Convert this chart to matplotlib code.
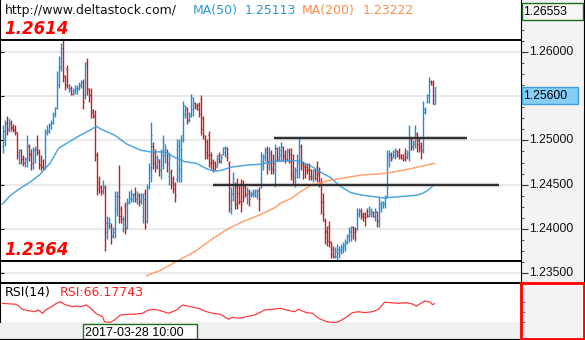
import matplotlib
matplotlib.use('Agg')
import matplotlib.pyplot as plt
import numpy as np
from matplotlib.patches import Rectangle
import matplotlib.transforms as mtransforms

plt.rcParams['font.family'] = ['DejaVu Sans']

# ---- H1 bars (open / high / low / close) ----
opens = [1.2494, 1.2511, 1.2520, 1.2513, 1.2520, 1.2515, 1.2513, 1.2509, 1.2483, 1.2489,
         1.2479, 1.2475, 1.2479, 1.2494, 1.2485, 1.2475, 1.2489, 1.2490, 1.2487, 1.2472,
         1.2470, 1.2470, 1.2510, 1.2511, 1.2517, 1.2520, 1.2530, 1.2537, 1.2563, 1.2583,
         1.2604, 1.2572, 1.2581, 1.2559, 1.2559, 1.2553, 1.2555, 1.2557, 1.2559, 1.2563,
         1.2566, 1.2551, 1.2589, 1.2557, 1.2551, 1.2534, 1.2528, 1.2483, 1.2453, 1.2447,
         1.2443, 1.2447, 1.2396, 1.2403, 1.2403, 1.2392, 1.2396, 1.2422, 1.2437, 1.2422,
         1.2400, 1.2426, 1.2402, 1.2430, 1.2434, 1.2434, 1.2439, 1.2432, 1.2438, 1.2432,
         1.2415, 1.2441, 1.2409, 1.2447, 1.2468, 1.2494, 1.2487, 1.2472, 1.2477, 1.2468,
         1.2483, 1.2483, 1.2487, 1.2460, 1.2464, 1.2456, 1.2451, 1.2456, 1.2460, 1.2468,
         1.2506, 1.2530, 1.2536, 1.2523, 1.2530, 1.2536, 1.2542, 1.2540, 1.2540, 1.2547,
         1.2525, 1.2502, 1.2498, 1.2506, 1.2483, 1.2477, 1.2475, 1.2472, 1.2483, 1.2477,
         1.2485, 1.2487, 1.2491, 1.2475, 1.2424, 1.2439, 1.2451, 1.2447, 1.2441, 1.2449,
         1.2449, 1.2447, 1.2438, 1.2441, 1.2438, 1.2439, 1.2439, 1.2438, 1.2443, 1.2447,
         1.2475, 1.2481, 1.2489, 1.2475, 1.2485, 1.2477, 1.2466, 1.2491, 1.2481, 1.2483,
         1.2492, 1.2483, 1.2479, 1.2489, 1.2485, 1.2477, 1.2458, 1.2466, 1.2474, 1.2494,
         1.2474, 1.2472, 1.2470, 1.2468, 1.2466, 1.2460, 1.2466, 1.2470, 1.2464, 1.2453,
         1.2430, 1.2409, 1.2398, 1.2402, 1.2385, 1.2377, 1.2369, 1.2369, 1.2373, 1.2375,
         1.2377, 1.2381, 1.2385, 1.2392, 1.2396, 1.2402, 1.2400, 1.2400, 1.2417, 1.2420,
         1.2417, 1.2417, 1.2420, 1.2415, 1.2417, 1.2419, 1.2413, 1.2419, 1.2409, 1.2424,
         1.2426, 1.2428, 1.2436, 1.2481, 1.2485, 1.2481, 1.2483, 1.2488, 1.2487, 1.2484,
         1.2483, 1.2486, 1.2481, 1.2485, 1.2502, 1.2492, 1.2496, 1.2506, 1.2500, 1.2494,
         1.2489, 1.2532, 1.2544, 1.2551, 1.2567, 1.2566, 1.2541]
highs = [1.2517, 1.2523, 1.2528, 1.2525, 1.2523, 1.2519, 1.2517, 1.2510, 1.2490, 1.2490,
         1.2483, 1.2481, 1.2506, 1.2496, 1.2490, 1.2492, 1.2494, 1.2506, 1.2490, 1.2483,
         1.2479, 1.2513, 1.2517, 1.2520, 1.2523, 1.2532, 1.2538, 1.2578, 1.2595, 1.2610,
         1.2614, 1.2574, 1.2585, 1.2564, 1.2561, 1.2559, 1.2563, 1.2563, 1.2566, 1.2568,
         1.2570, 1.2589, 1.2593, 1.2559, 1.2559, 1.2536, 1.2534, 1.2487, 1.2460, 1.2449,
         1.2455, 1.2449, 1.2415, 1.2413, 1.2407, 1.2402, 1.2443, 1.2443, 1.2472, 1.2426,
         1.2415, 1.2430, 1.2435, 1.2443, 1.2445, 1.2441, 1.2447, 1.2443, 1.2441, 1.2441,
         1.2441, 1.2445, 1.2451, 1.2475, 1.2521, 1.2498, 1.2490, 1.2483, 1.2479, 1.2490,
         1.2506, 1.2496, 1.2490, 1.2487, 1.2468, 1.2460, 1.2453, 1.2502, 1.2502, 1.2506,
         1.2545, 1.2540, 1.2538, 1.2532, 1.2553, 1.2549, 1.2544, 1.2542, 1.2544, 1.2551,
         1.2528, 1.2506, 1.2502, 1.2511, 1.2487, 1.2479, 1.2477, 1.2483, 1.2487, 1.2485,
         1.2493, 1.2494, 1.2492, 1.2477, 1.2447, 1.2464, 1.2453, 1.2458, 1.2449, 1.2456,
         1.2455, 1.2451, 1.2447, 1.2445, 1.2443, 1.2445, 1.2445, 1.2445, 1.2447, 1.2487,
         1.2485, 1.2492, 1.2494, 1.2492, 1.2489, 1.2485, 1.2496, 1.2492, 1.2494, 1.2498,
         1.2494, 1.2489, 1.2491, 1.2491, 1.2491, 1.2485, 1.2470, 1.2485, 1.2503, 1.2496,
         1.2477, 1.2475, 1.2474, 1.2474, 1.2468, 1.2468, 1.2468, 1.2477, 1.2470, 1.2458,
         1.2441, 1.2412, 1.2403, 1.2409, 1.2386, 1.2381, 1.2379, 1.2383, 1.2381, 1.2383,
         1.2385, 1.2388, 1.2394, 1.2402, 1.2403, 1.2403, 1.2402, 1.2424, 1.2424, 1.2424,
         1.2419, 1.2419, 1.2424, 1.2426, 1.2424, 1.2420, 1.2424, 1.2420, 1.2436, 1.2432,
         1.2432, 1.2438, 1.2489, 1.2489, 1.2487, 1.2489, 1.2491, 1.2489, 1.2491, 1.2485,
         1.2485, 1.2491, 1.2489, 1.2517, 1.2504, 1.2500, 1.2517, 1.2510, 1.2504, 1.2498,
         1.2545, 1.2538, 1.2553, 1.2572, 1.2568, 1.2568, 1.2560]
lows = [1.2486, 1.2494, 1.2506, 1.2510, 1.2511, 1.2510, 1.2506, 1.2479, 1.2473, 1.2473,
        1.2471, 1.2470, 1.2470, 1.2477, 1.2467, 1.2468, 1.2475, 1.2483, 1.2468, 1.2466,
        1.2467, 1.2468, 1.2506, 1.2508, 1.2513, 1.2519, 1.2527, 1.2536, 1.2559, 1.2578,
        1.2566, 1.2557, 1.2559, 1.2555, 1.2551, 1.2551, 1.2553, 1.2553, 1.2557, 1.2559,
        1.2536, 1.2547, 1.2551, 1.2544, 1.2525, 1.2525, 1.2477, 1.2438, 1.2441, 1.2438,
        1.2439, 1.2375, 1.2388, 1.2400, 1.2383, 1.2390, 1.2390, 1.2415, 1.2407, 1.2407,
        1.2396, 1.2394, 1.2400, 1.2428, 1.2430, 1.2430, 1.2430, 1.2428, 1.2426, 1.2428,
        1.2407, 1.2400, 1.2407, 1.2445, 1.2453, 1.2468, 1.2464, 1.2468, 1.2460, 1.2456,
        1.2468, 1.2475, 1.2464, 1.2449, 1.2445, 1.2441, 1.2430, 1.2453, 1.2453, 1.2453,
        1.2498, 1.2525, 1.2519, 1.2521, 1.2527, 1.2528, 1.2536, 1.2534, 1.2527, 1.2506,
        1.2502, 1.2479, 1.2479, 1.2470, 1.2468, 1.2464, 1.2466, 1.2470, 1.2474, 1.2474,
        1.2483, 1.2481, 1.2477, 1.2419, 1.2417, 1.2432, 1.2422, 1.2422, 1.2428, 1.2419,
        1.2430, 1.2436, 1.2428, 1.2426, 1.2436, 1.2436, 1.2436, 1.2434, 1.2420, 1.2446,
        1.2466, 1.2477, 1.2462, 1.2466, 1.2462, 1.2462, 1.2447, 1.2477, 1.2477, 1.2477,
        1.2477, 1.2475, 1.2477, 1.2475, 1.2455, 1.2449, 1.2447, 1.2458, 1.2458, 1.2466,
        1.2456, 1.2458, 1.2462, 1.2455, 1.2455, 1.2453, 1.2455, 1.2453, 1.2447, 1.2417,
        1.2409, 1.2383, 1.2381, 1.2379, 1.2367, 1.2367, 1.2367, 1.2364, 1.2367, 1.2371,
        1.2373, 1.2375, 1.2383, 1.2385, 1.2386, 1.2388, 1.2386, 1.2399, 1.2413, 1.2411,
        1.2409, 1.2403, 1.2413, 1.2413, 1.2413, 1.2413, 1.2409, 1.2402, 1.2402, 1.2419,
        1.2424, 1.2424, 1.2435, 1.2470, 1.2477, 1.2480, 1.2479, 1.2481, 1.2479, 1.2479,
        1.2477, 1.2477, 1.2479, 1.2477, 1.2489, 1.2489, 1.2491, 1.2487, 1.2487, 1.2479,
        1.2486, 1.2530, 1.2542, 1.2542, 1.2563, 1.2541, 1.2541]
closes = [1.2511, 1.2520, 1.2513, 1.2520, 1.2514, 1.2512, 1.2510, 1.2487, 1.2489, 1.2479,
          1.2475, 1.2479, 1.2494, 1.2485, 1.2475, 1.2489, 1.2490, 1.2487, 1.2472, 1.2470,
          1.2468, 1.2510, 1.2511, 1.2517, 1.2520, 1.2530, 1.2537, 1.2563, 1.2583, 1.2604,
          1.2574, 1.2563, 1.2563, 1.2563, 1.2553, 1.2557, 1.2559, 1.2559, 1.2563, 1.2566,
          1.2544, 1.2585, 1.2559, 1.2551, 1.2532, 1.2528, 1.2483, 1.2445, 1.2447, 1.2443,
          1.2447, 1.2407, 1.2407, 1.2407, 1.2392, 1.2400, 1.2437, 1.2437, 1.2415, 1.2411,
          1.2411, 1.2400, 1.2430, 1.2435, 1.2439, 1.2438, 1.2434, 1.2438, 1.2432, 1.2438,
          1.2434, 1.2403, 1.2447, 1.2470, 1.2506, 1.2475, 1.2470, 1.2479, 1.2466, 1.2487,
          1.2498, 1.2490, 1.2474, 1.2481, 1.2453, 1.2445, 1.2438, 1.2494, 1.2490, 1.2502,
          1.2540, 1.2538, 1.2523, 1.2528, 1.2549, 1.2542, 1.2538, 1.2536, 1.2530, 1.2513,
          1.2506, 1.2487, 1.2483, 1.2475, 1.2474, 1.2468, 1.2470, 1.2479, 1.2477, 1.2481,
          1.2491, 1.2492, 1.2481, 1.2432, 1.2441, 1.2458, 1.2428, 1.2430, 1.2432, 1.2428,
          1.2436, 1.2439, 1.2443, 1.2434, 1.2441, 1.2442, 1.2443, 1.2444, 1.2434, 1.2477,
          1.2481, 1.2487, 1.2477, 1.2487, 1.2468, 1.2474, 1.2491, 1.2479, 1.2489, 1.2492,
          1.2481, 1.2479, 1.2487, 1.2477, 1.2462, 1.2460, 1.2466, 1.2477, 1.2494, 1.2474,
          1.2470, 1.2466, 1.2466, 1.2460, 1.2458, 1.2466, 1.2458, 1.2462, 1.2453, 1.2430,
          1.2417, 1.2396, 1.2386, 1.2385, 1.2371, 1.2369, 1.2375, 1.2377, 1.2377, 1.2379,
          1.2383, 1.2385, 1.2392, 1.2398, 1.2402, 1.2396, 1.2398, 1.2417, 1.2420, 1.2415,
          1.2413, 1.2413, 1.2415, 1.2420, 1.2419, 1.2415, 1.2420, 1.2409, 1.2428, 1.2430,
          1.2429, 1.2435, 1.2483, 1.2483, 1.2479, 1.2487, 1.2489, 1.2483, 1.2481, 1.2480,
          1.2479, 1.2481, 1.2487, 1.2504, 1.2494, 1.2498, 1.2508, 1.2496, 1.2491, 1.2489,
          1.2536, 1.2536, 1.2551, 1.2566, 1.2564, 1.2541, 1.2560]

# moving averages (bar index, value)
ma50_idx = [0, 4, 9, 14, 19, 24, 28, 33, 39, 44, 47, 49, 56, 62, 69, 74, 81, 86, 91, 97,
            102, 106, 109, 115, 122, 129, 135, 142, 148, 150, 155, 159, 164, 169, 174, 180,
            187, 190, 197, 202, 207, 210, 213, 216]
ma50_val = [1.2428, 1.2438, 1.2446, 1.2453, 1.2462, 1.2475, 1.2491, 1.2498, 1.2506, 1.2512,
            1.2516, 1.2513, 1.2506, 1.2496, 1.2489, 1.2487, 1.2487, 1.2481, 1.2476, 1.2474,
            1.2468, 1.2465, 1.2466, 1.2470, 1.2472, 1.2473, 1.2476, 1.2477, 1.2477, 1.2475,
            1.2470, 1.2464, 1.2458, 1.2448, 1.2441, 1.2438, 1.2436, 1.2435, 1.2436, 1.2437,
            1.2438, 1.2440, 1.2444, 1.2450]
ma200_idx = [72, 79, 87, 96, 104, 112, 120, 129, 137, 139, 144, 149, 155, 164, 172, 180,
             188, 195, 202, 208, 216]
ma200_val = [1.2347, 1.2353, 1.2363, 1.2374, 1.2387, 1.2399, 1.2408, 1.2416, 1.2425, 1.2429,
             1.2434, 1.2442, 1.2450, 1.2455, 1.2458, 1.2461, 1.2462, 1.2464, 1.2467, 1.2470,
             1.2474]

# RSI(14)
rsi_idx = [0, 7, 10, 13, 16, 18, 20, 22, 24, 27, 29, 31, 33, 35, 37, 39, 42, 44, 47, 50,
           51, 54, 56, 59, 63, 66, 70, 73, 76, 79, 83, 87, 90, 94, 98, 102, 105, 109, 113,
           115, 118, 122, 126, 128, 131, 135, 139, 142, 146, 148, 152, 155, 158, 162, 166,
           168, 171, 175, 178, 181, 185, 188, 191, 194, 198, 202, 205, 207, 211, 214, 215, 216]
rsi_val = [66.8, 64.9, 55.2, 52.6, 50.6, 53.9, 47.5, 55.2, 59.1, 66.8, 70.0, 64.9, 62.2,
           60.3, 61.6, 60.3, 63.6, 57.2, 46.2, 41.0, 31.2, 30.0, 34.5, 44.2, 45.6, 45.6,
           47.5, 53.9, 55.2, 52.6, 47.5, 53.9, 63.6, 60.3, 57.2, 50.6, 47.5, 45.6, 35.9,
           39.7, 37.8, 41.0, 44.2, 47.5, 53.9, 55.2, 57.2, 53.9, 50.6, 55.2, 48.7, 47.5,
           37.8, 31.2, 29.3, 31.2, 37.8, 48.7, 50.6, 48.7, 50.6, 55.2, 68.8, 68.1, 66.8,
           68.1, 65.5, 61.6, 71.4, 68.8, 64.2, 66.17743]

# drawn levels
range_high, range_low = 1.2614, 1.2364
level_price = [1.2503, 1.2449]
level_start = [135.75, 105.25]
level_end = [232.25, 248.25]

price_ticks = [1.235, 1.240, 1.245, 1.250, 1.255, 1.260]
max_price = 1.26553
last_price = 1.2560

# ---- layout (pixels) ----
W, H = 585, 340
PANEL_W = 521
MAIN_H = 283
PX_PER_BAR, FIRST_BAR_PX = 2.0, 2.5
PX_PER_PRICE = 8840.0
P_TOP = 1.26 + 52 / PX_PER_PRICE
P_BOTTOM = 1.26 - (MAIN_H - 52) / PX_PER_PRICE
X_LEFT = -FIRST_BAR_PX / PX_PER_BAR
X_RIGHT = (PANEL_W - FIRST_BAR_PX) / PX_PER_BAR
RSI_PX = 0.515
RSI_TOP = 70 + (301.7 - MAIN_H) / RSI_PX
RSI_BOTTOM = 70 - (323 - 301.7) / RSI_PX

BLUE = '#1f8ed6'
RED = '#be2226'

fig = plt.figure(figsize=(W / 100, H / 100), dpi=100)
fig.patch.set_facecolor('white')


def add_px_axes(left, top, width, height):
    return fig.add_axes([left / W, 1 - (top + height) / H, width / W, height / H])


def bare(a):
    a.set_xticks([])
    a.set_yticks([])
    for s in a.spines.values():
        s.set_visible(False)


# main price panel
ax = add_px_axes(0, 0, PANEL_W, MAIN_H)
bare(ax)
ax.set_xlim(X_LEFT, X_RIGHT)
ax.set_ylim(P_BOTTOM, P_TOP)
for y in price_ticks:
    ax.axhline(y, color='#e6e6e6', lw=1.2, zorder=0)
ax.spines['left'].set_visible(True)
ax.spines['left'].set_color('black')
ax.set_yticks(price_ticks)
ax.tick_params(axis='y', direction='in', length=3, width=0.8, labelleft=False)

o = np.array(opens)
h = np.array(highs)
l = np.array(lows)
c = np.array(closes)
idx = np.arange(len(c))
colors = np.where(c >= o, BLUE, RED)
ax.vlines(idx, l, h, colors=colors, lw=1.0, zorder=3)
ax.hlines(o, idx - 0.5, idx, colors=colors, lw=0.9, zorder=3)
ax.hlines(c, idx, idx + 0.5, colors=colors, lw=0.9, zorder=3)

ax.plot(ma50_idx, ma50_val, color='#3d9fdc', lw=1.1, alpha=0.9, zorder=4)
ax.plot(ma200_idx, ma200_val, color='#ff9a62', lw=1.1, alpha=0.9, zorder=4)

ax.hlines(level_price, level_start, level_end, colors='#9a9a9a', lw=3.0, alpha=0.5, zorder=2)
ax.hlines(level_price, level_start, level_end, colors='#2e2e2e', lw=1.4, zorder=5)
ax.axhline(range_high, color='black', lw=1.4, zorder=5)
ax.axhline(range_low, color='black', lw=1.4, zorder=5)

blend = mtransforms.blended_transform_factory(ax.transAxes, ax.transData)
for val in (range_high, range_low):
    ax.annotate(f'{val:.4f}', xy=(4 / PANEL_W, val), xycoords=blend, xytext=(0, 5.5),
                textcoords='offset pixels', va='baseline', ha='left', color='#ff0000',
                fontsize=12, fontweight='bold', fontstyle='italic', zorder=6)

fig.text(5 / W, 1 - 14 / H, 'http://www.deltastock.com/', fontsize=9, color='#111111',
         va='baseline')
fig.text(193 / W, 1 - 14 / H, 'MA(50)', fontsize=9, color='#2e98d8', va='baseline')
fig.text(245 / W, 1 - 14 / H, '1.25113', fontsize=9, color='#2e98d8', va='baseline')
fig.text(302 / W, 1 - 14 / H, 'MA(200)', fontsize=9, color='#ff8a50', va='baseline')
fig.text(363 / W, 1 - 14 / H, '1.23222', fontsize=9, color='#ff8a50', va='baseline')

# RSI panel
ax_rsi = add_px_axes(0, MAIN_H, PANEL_W, 40)
bare(ax_rsi)
ax_rsi.set_xlim(X_LEFT, X_RIGHT)
ax_rsi.set_ylim(RSI_BOTTOM, RSI_TOP)
ax_rsi.plot(rsi_idx, rsi_val, color='#ff3c3c', lw=0.9)
for side in ('top', 'bottom', 'left'):
    ax_rsi.spines[side].set_visible(True)
    ax_rsi.spines[side].set_color('black')
ax_rsi.spines['top'].set_linewidth(1.4)
fig.text(4.5 / W, 1 - 296 / H, 'RSI(14)', fontsize=9, color='black', va='baseline')
fig.text(60 / W, 1 - 296 / H, f'RSI:{rsi_val[-1]:.5f}', fontsize=9, color='#ff2020',
         va='baseline')

# time row
ax_time = add_px_axes(0, 323, PANEL_W, 16)
bare(ax_time)
ax_time.set_facecolor('#f0f0f0')
ax_time.set_xlim(0, PANEL_W)
ax_time.set_ylim(16, 0)
ax_time.add_patch(Rectangle((83, 0.5), 114, 15.5, facecolor='white', edgecolor='#1e6e1e', lw=1))
ax_time.text(85, 12.6, '2017-03-28 10:00', fontsize=9, family='Liberation Sans',
             color='black', va='baseline')
ax_time.spines['bottom'].set_visible(True)
ax_time.spines['bottom'].set_color('black')

# price scale
ax_r = add_px_axes(PANEL_W, 0, W - PANEL_W - 1, MAIN_H)
bare(ax_r)
ax_r.set_facecolor('#f3f3f3')
ax_r.set_xlim(0, W - PANEL_W - 1)
ax_r.set_ylim(P_BOTTOM, P_TOP)
for s in ('left', 'right'):
    ax_r.spines[s].set_visible(True)
    ax_r.spines[s].set_color('black')
minor = np.arange(1.23375, 1.2655, 0.00125)
ax_r.hlines(minor, 0, 3, colors='#555555', lw=0.8)
for y in price_ticks:
    ax_r.hlines(y, 0, 7, colors='#333333', lw=0.8)
    # the 1.25500 label sits under the last-price marker
    if abs(y - last_price) > 0.0015:
        ax_r.text(8, y, f'{y:.5f}', fontsize=8.7, family='Liberation Sans', color='#111111',
                  va='center', ha='left')
box_h = 17 / PX_PER_PRICE
ax_r.add_patch(Rectangle((0.5, max_price - box_h), 61, box_h, facecolor='#f6f6f6',
                         edgecolor='#1f6b1f', lw=1, zorder=5))
ax_r.text(2, max_price - box_h / 2, f'{max_price:.5f}', fontsize=8.7, family='Liberation Sans',
          color='black', va='center', zorder=6)
ax_r.add_patch(Rectangle((0.5, last_price - box_h), 56.5, box_h, facecolor='#87cdf5',
                         edgecolor='#3a9ee0', lw=1, zorder=5))
ax_r.text(2.5, last_price - box_h / 2, f'{last_price:.5f}', fontsize=8.7,
          family='Liberation Sans', color='black', va='center', zorder=6)

# RSI scale
ax_rr = add_px_axes(PANEL_W, MAIN_H, W - PANEL_W - 1, H - MAIN_H - 1)
bare(ax_rr)
ax_rr.set_facecolor('#f3f3f3')
ax_rr.set_xlim(0, W - PANEL_W - 1)
ax_rr.set_ylim(H - MAIN_H - 1, 0)
for s in ax_rr.spines.values():
    s.set_visible(True)
    s.set_color('#ff0000')
    s.set_linewidth(2)
for y in (301.7, 312.3, 322.3):
    ax_rr.hlines(y - MAIN_H, 1, 4, colors='#777777', lw=0.8)

fig.savefig('out.png', dpi=100)
